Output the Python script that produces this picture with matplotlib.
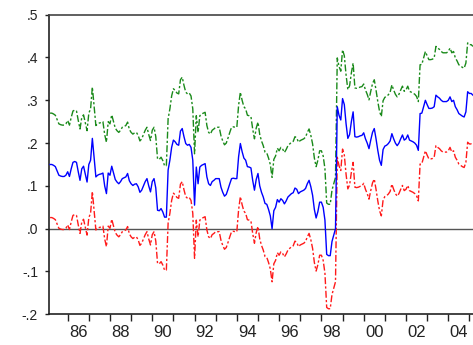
import numpy as np
import matplotlib
matplotlib.use("Agg")
import matplotlib.pyplot as plt
from matplotlib.ticker import FixedLocator, NullFormatter, FixedFormatter

plt.rcParams['font.family'] = ['Liberation Sans', 'DejaVu Sans']

# Monthly sample: 1985M03 .. 2005M03
start_year, start_month = 1985, 3

# Time-varying coefficient estimate
coef = [
    0.150, 0.150, 0.148, 0.145, 0.135, 0.125, 0.123, 0.122, 0.122, 0.125,
    0.133, 0.122, 0.140, 0.155, 0.157, 0.155, 0.133, 0.113, 0.140, 0.146, 0.128, 0.109,
    0.150, 0.160, 0.211, 0.165, 0.121, 0.125, 0.127, 0.128, 0.130, 0.100, 0.082, 0.130,
    0.125, 0.146, 0.130, 0.115, 0.109, 0.105, 0.110, 0.117, 0.119, 0.121, 0.129, 0.112,
    0.105, 0.101, 0.104, 0.105, 0.098, 0.085, 0.090, 0.100, 0.110, 0.117, 0.100, 0.086,
    0.110, 0.117, 0.095, 0.043, 0.042, 0.047, 0.039, 0.027, 0.027, 0.137, 0.160, 0.190,
    0.207, 0.203, 0.197, 0.195, 0.228, 0.234, 0.215, 0.199, 0.195, 0.197, 0.190, 0.160,
    0.055, 0.144, 0.105, 0.144, 0.148, 0.150, 0.152, 0.121, 0.105, 0.101, 0.110, 0.113,
    0.117, 0.117, 0.117, 0.097, 0.085, 0.076, 0.080, 0.092, 0.105, 0.117, 0.118, 0.117,
    0.117, 0.168, 0.199, 0.180, 0.165, 0.160, 0.145, 0.144, 0.142, 0.113, 0.090, 0.115,
    0.129, 0.100, 0.085, 0.074, 0.059, 0.057, 0.045, 0.030, 0.000, 0.042, 0.050, 0.068,
    0.062, 0.070, 0.066, 0.058, 0.065, 0.074, 0.078, 0.082, 0.084, 0.095, 0.092, 0.082,
    0.086, 0.088, 0.090, 0.094, 0.105, 0.113, 0.098, 0.078, 0.045, 0.025, 0.040, 0.062,
    0.062, 0.050, 0.020, -0.060, -0.063, -0.063, -0.030, -0.015, 0.000, 0.285, 0.265, 0.254,
    0.304, 0.290, 0.245, 0.211, 0.220, 0.250, 0.273, 0.215, 0.214, 0.215, 0.217, 0.218,
    0.224, 0.210, 0.200, 0.187, 0.207, 0.225, 0.234, 0.210, 0.183, 0.160, 0.148, 0.185,
    0.193, 0.195, 0.199, 0.205, 0.222, 0.210, 0.200, 0.194, 0.200, 0.210, 0.219, 0.207,
    0.210, 0.219, 0.207, 0.205, 0.203, 0.200, 0.195, 0.183, 0.269, 0.270, 0.285, 0.300,
    0.290, 0.281, 0.281, 0.282, 0.285, 0.312, 0.308, 0.305, 0.300, 0.297, 0.297, 0.297,
    0.300, 0.308, 0.297, 0.300, 0.285, 0.278, 0.269, 0.266, 0.263, 0.261, 0.273, 0.320,
    0.316, 0.316, 0.312,
]

# Upper band (+2 S.E.)
upper = [
    0.270, 0.270, 0.268, 0.265, 0.255, 0.245, 0.243, 0.242, 0.242, 0.245,
    0.253, 0.242, 0.260, 0.275, 0.277, 0.275, 0.253, 0.233, 0.260, 0.266, 0.248, 0.229,
    0.270, 0.280, 0.331, 0.285, 0.241, 0.245, 0.247, 0.248, 0.250, 0.220, 0.202, 0.250,
    0.245, 0.266, 0.250, 0.235, 0.229, 0.225, 0.230, 0.237, 0.239, 0.241, 0.249, 0.232,
    0.225, 0.221, 0.224, 0.225, 0.218, 0.205, 0.210, 0.220, 0.230, 0.237, 0.220, 0.206,
    0.230, 0.237, 0.215, 0.163, 0.162, 0.167, 0.159, 0.147, 0.147, 0.257, 0.280, 0.310,
    0.327, 0.323, 0.317, 0.315, 0.348, 0.354, 0.335, 0.319, 0.315, 0.317, 0.310, 0.280,
    0.175, 0.264, 0.225, 0.264, 0.268, 0.270, 0.272, 0.241, 0.225, 0.221, 0.230, 0.233,
    0.237, 0.237, 0.237, 0.217, 0.205, 0.196, 0.200, 0.212, 0.225, 0.237, 0.238, 0.237,
    0.237, 0.288, 0.319, 0.300, 0.285, 0.280, 0.265, 0.264, 0.262, 0.233, 0.210, 0.235,
    0.249, 0.220, 0.205, 0.194, 0.179, 0.177, 0.165, 0.150, 0.120, 0.162, 0.170, 0.188,
    0.182, 0.190, 0.186, 0.178, 0.185, 0.194, 0.198, 0.202, 0.204, 0.215, 0.212, 0.202,
    0.206, 0.208, 0.210, 0.214, 0.225, 0.233, 0.218, 0.198, 0.165, 0.145, 0.160, 0.182,
    0.182, 0.170, 0.140, 0.060, 0.057, 0.057, 0.090, 0.105, 0.120, 0.399, 0.379, 0.368,
    0.418, 0.404, 0.359, 0.325, 0.334, 0.364, 0.387, 0.329, 0.328, 0.329, 0.331, 0.332,
    0.338, 0.324, 0.314, 0.301, 0.321, 0.339, 0.348, 0.324, 0.297, 0.274, 0.262, 0.299,
    0.307, 0.309, 0.313, 0.319, 0.336, 0.324, 0.314, 0.308, 0.314, 0.324, 0.333, 0.321,
    0.324, 0.333, 0.321, 0.319, 0.317, 0.314, 0.309, 0.297, 0.383, 0.384, 0.399, 0.414,
    0.404, 0.395, 0.395, 0.396, 0.399, 0.426, 0.422, 0.419, 0.414, 0.411, 0.411, 0.411,
    0.414, 0.422, 0.411, 0.414, 0.399, 0.392, 0.383, 0.380, 0.377, 0.375, 0.387, 0.434,
    0.430, 0.430, 0.426,
]

# Lower band (-2 S.E.)
lower = [
    0.026, 0.026, 0.024, 0.021, 0.011, 0.001, -0.001, -0.002, -0.002, 0.001,
    0.009, -0.002, 0.016, 0.031, 0.033, 0.031, 0.009, -0.011, 0.016, 0.022, 0.004, -0.015,
    0.026, 0.036, 0.087, 0.041, -0.003, 0.001, 0.003, 0.004, 0.006, -0.024, -0.042, 0.006,
    0.001, 0.022, 0.006, -0.009, -0.015, -0.019, -0.014, -0.007, -0.005, -0.003, 0.005, -0.012,
    -0.019, -0.023, -0.020, -0.019, -0.026, -0.039, -0.034, -0.024, -0.014, -0.007, -0.024, -0.038,
    -0.014, -0.007, -0.029, -0.081, -0.082, -0.077, -0.085, -0.097, -0.097, 0.013, 0.036, 0.066,
    0.083, 0.079, 0.073, 0.071, 0.104, 0.110, 0.091, 0.075, 0.071, 0.073, 0.066, 0.036,
    -0.069, 0.020, -0.019, 0.020, 0.024, 0.026, 0.028, -0.003, -0.019, -0.023, -0.014, -0.011,
    -0.007, -0.007, -0.007, -0.027, -0.039, -0.048, -0.044, -0.032, -0.019, -0.007, -0.006, -0.007,
    -0.007, 0.044, 0.075, 0.056, 0.041, 0.036, 0.021, 0.020, 0.018, -0.011, -0.034, -0.009,
    0.005, -0.024, -0.039, -0.050, -0.065, -0.067, -0.079, -0.094, -0.124, -0.082, -0.074, -0.056,
    -0.062, -0.054, -0.058, -0.066, -0.059, -0.050, -0.046, -0.042, -0.040, -0.029, -0.032, -0.042,
    -0.038, -0.036, -0.034, -0.030, -0.019, -0.011, -0.026, -0.046, -0.079, -0.099, -0.084, -0.062,
    -0.062, -0.074, -0.104, -0.184, -0.187, -0.187, -0.154, -0.139, -0.124, 0.167, 0.147, 0.136,
    0.186, 0.172, 0.127, 0.093, 0.102, 0.132, 0.155, 0.097, 0.096, 0.097, 0.099, 0.100,
    0.106, 0.092, 0.082, 0.069, 0.089, 0.107, 0.116, 0.092, 0.065, 0.042, 0.030, 0.067,
    0.075, 0.077, 0.081, 0.087, 0.104, 0.092, 0.082, 0.076, 0.082, 0.092, 0.101, 0.089,
    0.092, 0.101, 0.089, 0.087, 0.085, 0.082, 0.077, 0.065, 0.151, 0.152, 0.167, 0.182,
    0.172, 0.163, 0.163, 0.164, 0.167, 0.194, 0.190, 0.187, 0.182, 0.179, 0.179, 0.179,
    0.182, 0.190, 0.179, 0.182, 0.167, 0.160, 0.151, 0.148, 0.145, 0.143, 0.155, 0.202,
    0.198, 0.198, 0.194,
]

y_ticks = [-0.2, -0.1, 0.0, 0.1, 0.2, 0.3, 0.4, 0.5]
y_labels = ["-.2", "-.1", ".0", ".1", ".2", ".3", ".4", ".5"]
year_labels = ["86", "88", "90", "92", "94", "96", "98", "00", "02", "04"]
label_years = [1986, 1988, 1990, 1992, 1994, 1996, 1998, 2000, 2002, 2004]

n = len(coef)
dates = start_year + (start_month - 1 + np.arange(n)) / 12.0

fig = plt.figure(figsize=(4.73, 3.45), dpi=100)
ax = fig.add_axes([0.1042, 0.089, 0.9061, 0.8684])

ax.axhline(0.0, color="#555555", lw=1.0, zorder=1)
dashdot = (0, (5, 1.6, 1.6, 1.6))
ax.plot(dates, upper, color="#1a8a1a", lw=1.0, linestyle=dashdot, zorder=2)
ax.plot(dates, lower, color="#ff1a1a", lw=1.0, linestyle=dashdot, zorder=2)
ax.plot(dates, coef, color="#0000ff", lw=1.0, zorder=3)

ax.set_xlim(1985.13, 2005.4)
ax.set_ylim(-0.2, 0.5)

ax.yaxis.set_major_locator(FixedLocator(y_ticks))
ax.yaxis.set_major_formatter(FixedFormatter(y_labels))
ax.tick_params(axis="y", direction="out", length=3.2, width=1.0, pad=5,
               labelsize=10, colors="#222222")

ax.xaxis.set_major_locator(FixedLocator(list(range(1986, 2006))))
ax.xaxis.set_major_formatter(NullFormatter())
ax.xaxis.set_minor_locator(FixedLocator([y + 0.5 for y in label_years]))
ax.xaxis.set_minor_formatter(FixedFormatter(year_labels))
ax.tick_params(axis="x", which="major", direction="out", length=5, width=1.0,
               colors="#222222")
ax.tick_params(axis="x", which="minor", length=0, pad=7.5, labelsize=12,
               labelcolor="#222222")

for side in ("left", "bottom"):
    ax.spines[side].set_color("#222222")
    ax.spines[side].set_linewidth(1.2)
ax.spines["top"].set_color("#444444")
ax.spines["top"].set_linewidth(1.2)
ax.spines["right"].set_visible(False)

fig.savefig("out.png", dpi=100)
